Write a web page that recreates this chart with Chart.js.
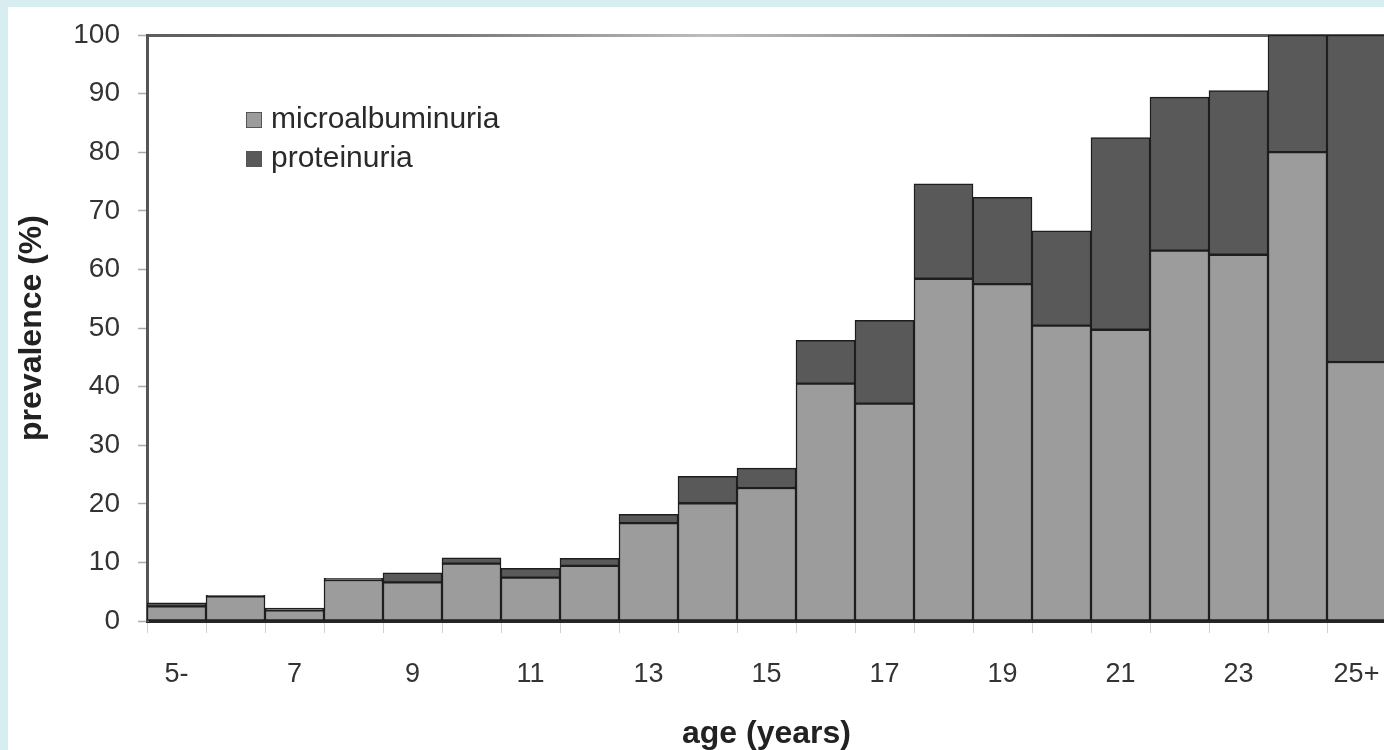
<!DOCTYPE html>
<html>
<head>
<meta charset="utf-8">
<script src="https://cdn.jsdelivr.net/npm/chart.js@4/dist/chart.umd.min.js"></script>
<style>
  html, body { margin: 0; padding: 0; width: 1384px; height: 750px; overflow: hidden; background: #d8edf0; }
  #wrap { position: absolute; left: 8px; top: 7px; width: 1376px; height: 743px; background: #ffffff; overflow: hidden; }
  canvas { display: block; }
</style>
</head>
<body>
<div id="wrap"><canvas id="c" width="1378" height="743"></canvas></div>
<script>
// Data
const ageCategories = ['5-','6','7','8','9','10','11','12','13','14','15','16','17','18','19','20','21','22','23','24','25+'];
const microalbuminuria = [2.5, 4.2, 1.8, 7.0, 6.6, 9.8, 7.4, 9.4, 16.7, 20.1, 22.7, 40.5, 37.1, 58.4, 57.5, 50.4, 49.7, 63.2, 62.5, 80.0, 44.2];
const proteinuria      = [0.6, 0.2, 0.4, 0.3, 1.6, 1.0, 1.6, 1.3, 1.5, 4.6, 3.4, 7.4, 14.2, 16.2, 14.8, 16.2, 32.8, 26.2, 28.0, 20.0, 55.8];
const seriesNames = ['microalbuminuria', 'proteinuria'];
const yTickValues = [0,10,20,30,40,50,60,70,80,90,100];

const FONT = "'Liberation Sans', Arial, sans-serif";

const insideLegend = {
  id: 'insideLegend',
  afterDraw(chart) {
    const ctx = chart.ctx;
    ctx.save();
    ctx.font = '30px ' + FONT;
    ctx.textBaseline = 'middle';
    ctx.textAlign = 'left';
    chart.data.datasets.forEach((ds, i) => {
      const y = 113 + i * 39;
      ctx.fillStyle = ds.backgroundColor;
      ctx.fillRect(238, y - 8, 16, 16);
      ctx.strokeStyle = '#555';
      ctx.lineWidth = 1;
      ctx.strokeRect(238.5, y - 7.5, 15, 15);
      ctx.fillStyle = '#2a2a2a';
      ctx.fillText(ds.label, 263, y);
    });
    ctx.restore();
  }
};

function topLineColor(c) {
  const area = c.chart.chartArea;
  if (!area) return '#888';
  const g = c.chart.ctx.createLinearGradient(area.left, 0, area.right, 0);
  g.addColorStop(0, '#5e5e5e');
  g.addColorStop(0.25, '#7a7a7a');
  g.addColorStop(0.45, '#bdbdbd');
  g.addColorStop(0.6, '#9a9a9a');
  g.addColorStop(0.78, '#6a6a6a');
  g.addColorStop(1, '#5a5a5a');
  return g;
}

new Chart(document.getElementById('c'), {
  type: 'bar',
  data: {
    labels: ageCategories,
    datasets: [
      { label: seriesNames[0], data: microalbuminuria, backgroundColor: '#9c9c9c', borderColor: '#1e1e1e', borderWidth: 1.5, borderSkipped: false, barPercentage: 1, categoryPercentage: 1 },
      { label: seriesNames[1], data: proteinuria, backgroundColor: '#595959', borderColor: '#1e1e1e', borderWidth: 1.5, borderSkipped: false, barPercentage: 1, categoryPercentage: 1 }
    ]
  },
  options: {
    responsive: false,
    animation: false,
    layout: { padding: { top: 28, left: 0, right: 0, bottom: 0 } },
    plugins: { legend: { display: false }, tooltip: { enabled: false } },
    scales: {
      x: {
        stacked: true,
        offset: true,
        afterFit(scale) { scale.height = 129; scale.paddingLeft = 0; scale.paddingRight = 0; },
        grid: { display: true, drawOnChartArea: false, drawTicks: true, tickLength: 12, tickColor: '#d0d0d0', offset: true },
        border: { display: true, color: '#262626', width: 3 },
        ticks: {
          autoSkip: false, maxRotation: 0, minRotation: 0, padding: 25,
          color: '#333', font: { family: FONT, size: 27 },
          callback(v, i) { return i % 2 === 0 ? this.getLabelForValue(v) : ''; }
        },
        title: { display: true, text: 'age (years)', color: '#222', font: { family: FONT, size: 32, weight: 'bold', lineHeight: 1.0 }, padding: { top: 0, bottom: 0 } }
      },
      y: {
        stacked: true,
        min: 0, max: 100,
        afterFit(scale) { scale.width = 139; scale.paddingTop = 0; scale.paddingBottom = 0; },
        afterBuildTicks(scale) { scale.ticks = yTickValues.map(v => ({ value: v })); },
        grid: {
          display: true, drawOnChartArea: true, drawTicks: true, tickLength: 9,
          color(ctx) { return ctx.tick && ctx.tick.value === 100 ? topLineColor(ctx) : 'rgba(0,0,0,0)'; },
          lineWidth(ctx) { return ctx.tick && ctx.tick.value === 100 ? 3 : 1; },
          tickColor: '#aaaaaa', tickWidth: 1.5
        },
        border: { display: true, color: '#555', width: 3 },
        ticks: { color: '#333', padding: 18, font: { family: FONT, size: 28 } },
        title: { display: true, text: 'prevalence (%)', color: '#222', font: { family: FONT, size: 32, weight: 'bold', lineHeight: 1.2 }, padding: { top: 5, bottom: 0 } }
      }
    }
  },
  plugins: [insideLegend]
});
</script>
</body>
</html>
